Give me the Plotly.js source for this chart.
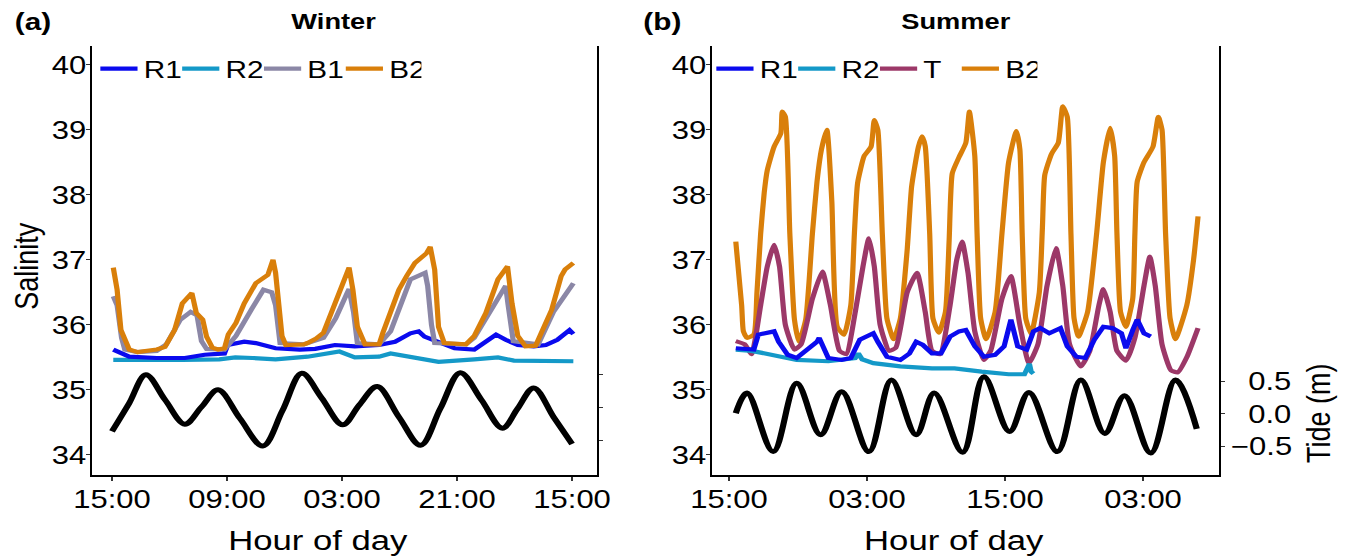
<!DOCTYPE html>
<html>
<head>
<meta charset="utf-8">
<script src="https://cdn.plot.ly/plotly-3.0.1.min.js"></script>
<style>
html,body{margin:0;padding:0;overflow:hidden;background:#fff;}
#chart{width:1085px;height:559px;transform:scaleX(1.2396);transform-origin:0 0;}
</style>
</head>
<body>
<div id="chart"></div>
<script>
// ---------- tick labels ----------
const winterTickVals = [0, 18, 36, 54, 72];
const winterTickText = ['15:00', '09:00', '03:00', '21:00', '15:00'];
const summerTickVals = [0, 12, 24, 36];
const summerTickText = ['15:00', '03:00', '15:00', '03:00'];
const salinityTicks = [34, 35, 36, 37, 38, 39, 40];
const tideTickVals = [-0.5, 0, 0.5];
const tideTickText = ['\u22120.5', '\u20070.0', '\u20070.5'];

// ---------- Winter (hours since first 15:00) ----------
const wR1_h = [0.2,2.7,7.0,11.4,14.5,17.6,18.1,20.7,22.5,25.6,29.4,31.8,34.9,38.0,41.8,44.3,46.7,48.0,48.9,51.1,53.6,56.7,58.5,60.1,61.6,63.5,66.0,67.9,69.7,71.6,72.2];
const wR1_s = [35.62,35.51,35.49,35.49,35.54,35.56,35.69,35.74,35.72,35.64,35.62,35.63,35.69,35.67,35.69,35.74,35.87,35.90,35.82,35.74,35.64,35.62,35.74,35.85,35.77,35.69,35.67,35.69,35.77,35.92,35.86];

const wR2_h = [0.2,3.0,7.0,11.0,16.8,19.3,22.0,25.6,30.6,33.7,35.6,38.0,41.8,43.6,47.4,51.1,56.7,60.4,62.9,69.1,72.2];
const wR2_s = [35.46,35.46,35.45,35.46,35.47,35.50,35.49,35.47,35.51,35.56,35.59,35.50,35.51,35.56,35.50,35.43,35.47,35.50,35.45,35.45,35.44];

const wB1_h = [0.2,0.8,1.5,2.0,4.0,7.0,8.5,10.7,12.3,13.3,14.0,14.8,17.6,19.4,21.9,23.7,25.0,25.6,26.3,30.0,33.1,35.0,36.8,37.1,37.8,38.4,41.8,43.6,46.7,49.0,49.4,50.0,50.5,55.4,56.7,60.4,61.6,62.0,62.8,66.7,69.1,72.2];
const wB1_s = [36.44,36.30,35.80,35.62,35.58,35.60,35.70,36.08,36.20,36.15,35.75,35.63,35.62,35.83,36.25,36.54,36.50,36.30,35.72,35.70,35.80,36.10,36.49,36.55,36.20,35.72,35.70,35.90,36.70,36.80,36.60,36.00,35.72,35.70,35.80,36.40,36.60,36.30,35.75,35.70,36.20,36.64];

const wB2_h = [0.2,0.8,1.4,2.7,4.0,5.5,7.0,8.3,9.8,11.0,12.5,13.2,14.2,14.8,15.7,16.6,17.6,18.2,19.4,20.7,22.5,24.4,25.2,25.6,26.6,27.2,30.0,30.6,31.8,33.1,34.3,35.6,36.8,37.1,37.7,38.4,39.6,41.8,42.4,43.6,44.9,46.1,47.4,49.2,49.8,50.5,51.1,52.0,55.4,56.7,58.5,60.4,61.9,62.6,63.5,64.7,66.3,67.2,68.8,70.3,70.9,72.2];
const wB2_s = [36.88,36.54,35.92,35.62,35.58,35.60,35.62,35.66,35.92,36.33,36.49,36.18,36.08,35.82,35.65,35.62,35.64,35.85,36.03,36.33,36.64,36.77,37.00,36.80,35.83,35.69,35.70,35.72,35.78,35.88,36.18,36.54,36.80,36.88,36.54,35.97,35.70,35.70,35.88,36.18,36.54,36.75,36.95,37.10,37.20,36.85,35.97,35.72,35.70,35.83,36.18,36.70,36.90,36.33,35.83,35.67,35.68,35.88,36.23,36.75,36.85,36.95];

const wTide_h = [0,2.7,5.3,8.3,11.4,14.0,16.6,20.0,23.6,26.7,29.7,32.8,36.1,38.7,41.5,44.9,48.3,51.4,54.5,57.8,61.1,63.5,66.0,69.1,72.0];
const wTide_m = [-0.37,0.06,0.49,0.11,-0.26,0.0,0.26,-0.17,-0.59,-0.05,0.51,0.14,-0.27,0.03,0.31,-0.15,-0.58,-0.02,0.52,0.11,-0.32,-0.02,0.29,-0.15,-0.56];

// ---------- Summer (hours since first 15:00) ----------
const sR1_h = [0.59,2.16,2.55,3.33,3.92,4.31,5.1,5.88,6.86,7.65,7.84,8.24,8.63,9.8,10.59,11.37,11.96,12.55,12.94,13.73,14.9,15.69,16.27,16.86,17.65,18.43,19.22,20.0,20.59,21.37,22.16,23.14,23.92,24.51,25.1,25.88,26.47,27.06,27.84,28.82,29.41,30.2,30.98,31.76,32.55,33.33,34.12,34.51,35.1,35.49,36.08,36.67];
const sR1_s = [35.64,35.62,35.85,35.87,35.9,35.74,35.54,35.49,35.62,35.74,35.8,35.62,35.49,35.46,35.49,35.77,35.82,35.87,35.74,35.51,35.46,35.56,35.74,35.69,35.56,35.56,35.82,35.9,35.92,35.67,35.51,35.54,35.67,36.08,35.67,35.62,35.9,35.95,35.87,35.95,35.67,35.51,35.49,35.77,35.97,35.95,35.87,35.64,35.92,36.08,35.87,35.82];

const sR2_h = [0.59,1.96,3.14,4.71,5.88,8.63,10.98,11.25,11.57,12.55,14.9,17.65,19.61,21.96,24.31,25.69,26.0,26.12,26.27,26.47];
const sR2_s = [35.62,35.6,35.56,35.5,35.46,35.44,35.49,35.56,35.47,35.41,35.36,35.33,35.33,35.28,35.24,35.24,35.35,35.4,35.28,35.25];

const sT_h = [0.59,1.37,1.96,2.75,3.33,3.92,4.39,4.9,5.69,6.27,7.25,8.12,8.82,9.61,10.2,10.98,11.65,12.16,12.63,13.14,13.92,14.51,15.49,16.35,17.06,17.65,18.35,19.22,19.8,20.27,20.78,21.37,22.16,22.75,23.73,24.51,25.29,26.08,26.86,27.65,28.43,29.02,29.61,30.59,31.37,32.16,32.55,33.14,33.73,34.51,35.29,36.08,36.59,37.06,37.65,38.43,39.02,39.8,40.78];
const sT_s = [35.75,35.7,35.55,36.3,36.9,37.23,36.9,36.0,35.62,35.7,36.4,36.82,36.3,35.6,35.55,36.2,36.9,37.33,36.9,36.0,35.6,35.65,36.5,36.8,36.2,35.6,35.55,36.3,37.0,37.28,36.8,35.9,35.46,35.6,36.4,36.75,36.0,35.41,35.7,36.6,37.18,36.6,35.7,35.36,35.6,36.3,36.55,36.2,35.6,35.45,35.8,36.6,37.05,36.6,35.7,35.3,35.27,35.5,35.95];

const sB2_h = [0.59,1.1,1.25,1.57,2.16,2.43,2.75,3.06,3.33,3.92,4.51,4.63,4.9,5.29,5.69,6.08,6.67,7.25,7.65,8.04,8.51,8.94,9.41,10.0,10.59,10.9,11.18,11.76,12.35,12.63,12.94,13.33,13.73,14.31,14.9,15.49,15.88,16.47,16.78,17.06,17.45,17.73,18.24,18.82,19.14,19.41,20.0,20.59,20.9,21.37,21.57,21.88,22.35,23.14,23.73,24.31,24.98,25.29,25.49,25.8,26.27,26.98,27.25,27.45,28.04,28.63,29.02,29.41,29.73,30.0,30.39,31.18,31.96,32.55,33.14,33.53,33.73,34.04,34.51,35.1,35.29,35.49,36.08,36.86,37.33,37.65,37.96,38.35,38.82,39.8,40.39,40.78];
const sB2_s = [37.28,36.3,35.9,35.8,35.85,36.5,37.4,38.03,38.38,38.74,38.95,39.28,39.2,37.4,36.08,35.74,36.08,37.4,38.2,38.7,39.0,37.9,35.97,35.85,36.3,37.4,38.18,38.6,38.74,39.15,39.0,37.4,36.1,35.78,36.1,37.15,38.13,38.74,38.9,38.75,37.4,36.1,35.88,36.2,37.3,38.33,38.58,38.8,39.28,38.6,37.4,36.1,35.78,36.2,37.4,38.5,38.98,38.7,37.4,36.1,35.86,36.5,37.5,38.3,38.63,38.8,39.36,39.2,37.4,36.1,35.82,36.2,37.4,38.5,39.03,38.6,37.4,36.2,35.97,36.4,37.4,38.2,38.5,38.74,39.2,39.0,37.4,36.1,35.78,36.3,37.0,37.67];

const sTide_h = [0.59,1.57,3.84,5.88,7.96,9.80,12.16,14.12,16.27,17.84,20.31,22.16,24.39,26.08,28.55,30.59,32.67,34.39,36.67,38.82,40.67];
const sTide_m = [0.01,0.32,-0.58,0.47,-0.32,0.34,-0.58,0.52,-0.32,0.32,-0.59,0.57,-0.27,0.33,-0.58,0.52,-0.30,0.28,-0.60,0.52,-0.23];

// ---------- styles ----------
const C = {R1:'#0a0aee', R2:'#1499c8', B1:'#8b87a6', B2:'#d97f0a', T:'#9c3868', tide:'#000000'};
const LW = 4.2;
const FONT = 'Liberation Sans, Arial, Helvetica, sans-serif';

function sal(name, x, y, xa, ya, leg, rank, color, smooth) {
  const line = {color:color, width:LW};
  if (smooth) { line.shape = 'spline'; line.smoothing = smooth; }
  return {type:'scatter', mode:'lines', name:name, x:x, y:y, xaxis:xa, yaxis:ya,
          legend:leg, legendrank:rank, line:line, hoverinfo:'skip'};
}

const traces = [
  // winter (draw order: R2, R1, B1, B2)
  sal('R2', wR2_h, wR2_s, 'x', 'y', 'legend', 2, C.R2),
  sal('R1', wR1_h, wR1_s, 'x', 'y', 'legend', 1, C.R1),
  sal('B1', wB1_h, wB1_s, 'x', 'y', 'legend', 3, C.B1),
  sal('B2', wB2_h, wB2_s, 'x', 'y', 'legend', 4, C.B2),
  {type:'scatter', mode:'lines', x:wTide_h, y:wTide_m, xaxis:'x', yaxis:'y2', showlegend:false,
   line:{color:C.tide, width:5, shape:'spline', smoothing:1}, hoverinfo:'skip'},
  // summer (draw order: B2, T, R2, R1)
  sal('B2', sB2_h, sB2_s, 'x2', 'y3', 'legend2', 4, C.B2, 0.5),
  sal('T', sT_h, sT_s, 'x2', 'y3', 'legend2', 3, C.T, 0.5),
  sal('R2', sR2_h, sR2_s, 'x2', 'y3', 'legend2', 2, C.R2),
  sal('R1', sR1_h, sR1_s, 'x2', 'y3', 'legend2', 1, C.R1),
  {type:'scatter', mode:'lines', x:sTide_h, y:sTide_m, xaxis:'x2', yaxis:'y4', showlegend:false,
   line:{color:C.tide, width:5, shape:'spline', smoothing:1}, hoverinfo:'skip'}
];

const W = 1345, H = 559;
const yDom = [1 - 475/H, 1 - 46/H];
const tickFont = {family:FONT, size:25, color:'#000'};

const xBase = {showline:true, linecolor:'#000', linewidth:2, ticks:'outside', ticklen:4, tickwidth:1,
               tickcolor:'#333', tickfont:tickFont, showgrid:false, zeroline:false, fixedrange:true,
               ticklabelstandoff:-3};
const yBase = {showline:true, linecolor:'#000', linewidth:1.7, ticks:'outside', ticklen:3, tickwidth:1,
               tickcolor:'#333', tickfont:tickFont, showgrid:false, zeroline:false, fixedrange:true};

const legendFont = {family:FONT, size:24, color:'#000'};

const layout = {
  width:1085, height:559,
  margin:{l:0, r:0, t:0, b:0, pad:0},
  paper_bgcolor:'#fff', plot_bgcolor:'#fff',
  font:{family:FONT, color:'#000'},
  hovermode:false,
  xaxis: Object.assign({}, xBase, {domain:[92/W, 597/W], anchor:'y', range:[-3.13, 75.9],
          tickmode:'array', tickvals:winterTickVals, ticktext:winterTickText}),
  yaxis: Object.assign({}, yBase, {domain:yDom, anchor:'x', range:[33.69, 40.29],
          tickmode:'array', tickvals:salinityTicks, ticklabelstandoff:-5}),
  yaxis2: Object.assign({}, yBase, {overlaying:'y', side:'right', anchor:'x', range:[-1.03, 5.47],
          tickmode:'array', tickvals:tideTickVals, showticklabels:false}),
  xaxis2: Object.assign({}, xBase, {domain:[712/W, 1219/W], anchor:'y3', range:[-1.48, 42.6],
          tickmode:'array', tickvals:summerTickVals, ticktext:summerTickText}),
  yaxis3: Object.assign({}, yBase, {domain:yDom, anchor:'x2', range:[33.69, 40.29],
          tickmode:'array', tickvals:salinityTicks, ticklabelstandoff:-5}),
  yaxis4: Object.assign({}, yBase, {overlaying:'y3', side:'right', anchor:'x2', range:[-0.94, 5.66],
          tickmode:'array', tickvals:tideTickVals, ticktext:tideTickText}),
  legend: {orientation:'h', x:0.070, xanchor:'left', y:1 - 69/H, yanchor:'middle',
           bgcolor:'rgba(0,0,0,0)', borderwidth:0, itemwidth:30, traceorder:'normal',
           entrywidth:21, entrywidthmode:'pixels', font:legendFont},
  legend2: {orientation:'h', x:0.528, xanchor:'left', y:1 - 69/H, yanchor:'middle',
           bgcolor:'rgba(0,0,0,0)', borderwidth:0, itemwidth:30, traceorder:'normal',
           entrywidth:21, entrywidthmode:'pixels', font:legendFont},
  annotations: [
    {text:'<b>(a)</b>', x:12/W, y:1 - 21/H, xref:'paper', yref:'paper', xanchor:'left', yanchor:'middle',
     showarrow:false, font:{family:FONT, size:24, color:'#000'}},
    {text:'<b>Winter</b>', x:334/W, y:1 - 21/H, xref:'paper', yref:'paper', xanchor:'center', yanchor:'middle',
     showarrow:false, font:{family:FONT, size:22, color:'#000'}},
    {text:'<b>(b)</b>', x:641/W, y:1 - 21/H, xref:'paper', yref:'paper', xanchor:'left', yanchor:'middle',
     showarrow:false, font:{family:FONT, size:24, color:'#000'}},
    {text:'<b>Summer</b>', x:956/W, y:1 - 21/H, xref:'paper', yref:'paper', xanchor:'center', yanchor:'middle',
     showarrow:false, font:{family:FONT, size:22, color:'#000'}},
    {text:'Salinity', x:27/W, y:1 - 266/H, xref:'paper', yref:'paper', xanchor:'center', yanchor:'middle',
     textangle:-90, showarrow:false, font:{family:FONT, size:27, color:'#000'}},
    {text:'Hour of day', x:318/W, y:1 - 540/H, xref:'paper', yref:'paper', xanchor:'center', yanchor:'middle',
     showarrow:false, font:{family:FONT, size:28, color:'#000'}},
    {text:'Hour of day', x:954/W, y:1 - 540/H, xref:'paper', yref:'paper', xanchor:'center', yanchor:'middle',
     showarrow:false, font:{family:FONT, size:28, color:'#000'}},
    {text:'Tide (m)', x:1319/W, y:1 - 413/H, xref:'paper', yref:'paper', xanchor:'center', yanchor:'middle',
     textangle:-90, showarrow:false, font:{family:FONT, size:27, color:'#000'}}
  ]
};

Plotly.newPlot('chart', traces, layout, {displayModeBar:false, staticPlot:true});
</script>
</body>
</html>
